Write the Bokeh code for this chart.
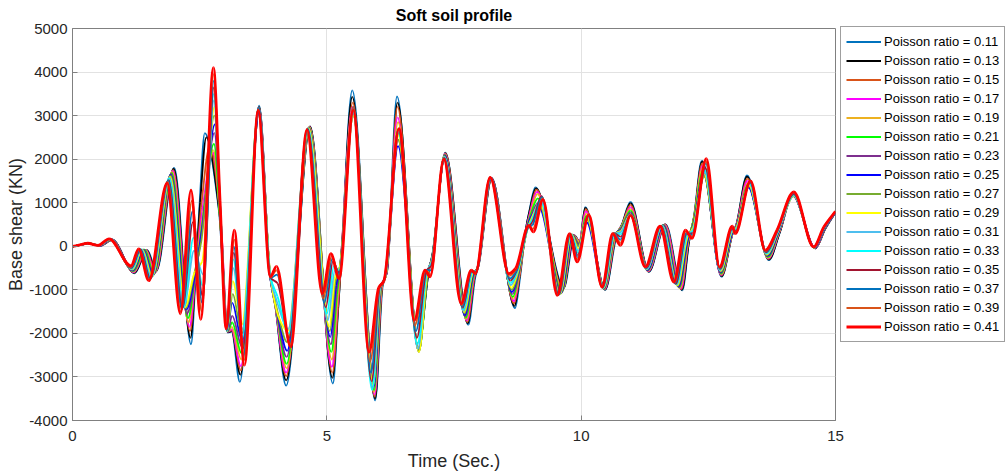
from bokeh.plotting import figure
from bokeh.models import Range1d, FixedTicker, Legend, LegendItem, ColumnDataSource
from bokeh.embed import file_html
from bokeh.resources import INLINE

poisson_ratios = [0.11, 0.13, 0.15, 0.17, 0.19, 0.21, 0.23, 0.25,
                  0.27, 0.29, 0.31, 0.33, 0.35, 0.37, 0.39, 0.41]
line_colors = ["#0072BD", "#000000", "#D95319", "#FF00FF", "#EDB120", "#00FF00",
               "#7E2F8E", "#0000FF", "#77AC30", "#FFFF00", "#4DBEEE", "#00FFFF",
               "#A2142F", "#0072BD", "#D95319", "#FF0000"]
x_ticks = [0, 5, 10, 15]
y_ticks = [-4000, -3000, -2000, -1000, 0, 1000, 2000, 3000, 4000, 5000]

# (time [s], base shear [kN]) read at extrema / shoulders of each curve
pr011 = [(0,0),(0.33,60),(0.55,15),(0.78,150),(1.22,-620),(1.47,-90),(1.65,-560),(2.00,1800),(2.33,-2250),(2.42,-700),(2.50,1000),(2.60,2600),(2.88,800),(3.05,-1980),(3.13,-1960),(3.29,-3115),(3.67,3230),(3.88,-600),(3.98,-1300),(4.20,-3200),(4.67,2750),(5.12,-3150),(5.22,-1500),(5.28,-400),(5.50,3580),(5.95,-3540),(6.10,-900),(6.18,-600),(6.38,3440),(6.80,-2350),(7.00,-600),(7.08,-150),(7.33,2150),(7.78,-1800),(7.92,-700),(7.98,-450),(8.24,1560),(8.70,-1420),(8.80,-700),(8.90,300),(8.98,800),(9.10,1350),(9.66,-950),(9.87,250),(9.97,100),(10.08,900),(10.47,-1000),(10.70,250),(10.80,500),(10.97,1020),(11.33,-590),(11.66,505),(11.99,-1010),(12.12,100),(12.22,700),(12.37,1960),(12.76,-700),(12.98,300),(13.05,500),(13.26,1630),(13.69,-320),(13.90,300),(14.17,1220),(14.60,-50),(14.80,400),(15.0,780)]
pr013 = [(0,0),(0.33,60),(0.55,15),(0.78,150),(1.22,-610),(1.46,-90),(1.64,-575),(1.99,1780),(2.32,-2100),(2.42,-600),(2.51,1000),(2.63,2500),(2.89,750),(3.05,-1970),(3.13,-1950),(3.30,-2950),(3.67,3200),(3.88,-610),(3.98,-1300),(4.20,-3080),(4.67,2750),(5.11,-3020),(5.22,-1450),(5.28,-400),(5.50,3430),(5.95,-3500),(6.09,-905),(6.18,-610),(6.39,3300),(6.80,-2350),(7.00,-600),(7.08,-170),(7.33,2140),(7.77,-1770),(7.91,-690),(7.98,-460),(8.24,1560),(8.69,-1370),(8.79,-690),(8.90,310),(8.98,780),(9.11,1330),(9.65,-970),(9.86,250),(9.97,100),(10.08,880),(10.47,-995),(10.69,255),(10.80,490),(10.97,990),(11.33,-580),(11.65,500),(11.98,-1000),(12.12,110),(12.22,680),(12.38,1950),(12.76,-685),(12.98,305),(13.05,490),(13.26,1600),(13.69,-305),(13.90,305),(14.17,1210),(14.60,-48),(14.80,405),(15.0,780)]
pr015 = [(0,0),(0.33,60),(0.54,15),(0.77,150),(1.21,-600),(1.45,-85),(1.63,-590),(1.98,1750),(2.31,-1950),(2.42,-600),(2.53,900),(2.70,2300),(2.91,650),(3.05,-1960),(3.13,-1930),(3.31,-2850),(3.67,3180),(3.88,-620),(3.99,-1350),(4.20,-2980),(4.66,2740),(5.11,-2900),(5.22,-1400),(5.28,-400),(5.51,3300),(5.94,-3450),(6.09,-910),(6.17,-625),(6.39,3200),(6.80,-2350),(6.99,-600),(7.08,-190),(7.33,2130),(7.76,-1740),(7.91,-680),(7.97,-470),(8.24,1560),(8.68,-1310),(8.79,-680),(8.91,320),(8.99,760),(9.12,1300),(9.64,-990),(9.85,255),(9.97,100),(10.09,850),(10.46,-990),(10.69,260),(10.80,480),(10.97,950),(11.32,-575),(11.65,500),(11.97,-985),(12.11,120),(12.22,660),(12.38,1900),(12.76,-670),(12.98,310),(13.05,480),(13.27,1550),(13.68,-290),(13.89,310),(14.17,1200),(14.60,-45),(14.80,410),(15.0,780)]
pr017 = [(0,0),(0.32,60),(0.54,15),(0.77,155),(1.21,-590),(1.44,-85),(1.62,-605),(1.97,1730),(2.30,-1850),(2.42,-600),(2.55,800),(2.76,2150),(2.92,500),(3.05,-1960),(3.13,-1900),(3.31,-2750),(3.67,3150),(3.88,-630),(3.99,-1400),(4.20,-2900),(4.66,2740),(5.10,-2770),(5.21,-1300),(5.27,-400),(5.51,3200),(5.94,-3400),(6.08,-915),(6.17,-640),(6.39,2960),(6.80,-2350),(6.99,-600),(7.08,-210),(7.32,2120),(7.75,-1700),(7.90,-670),(7.97,-480),(8.23,1565),(8.68,-1260),(8.78,-670),(8.91,330),(8.99,740),(9.13,1250),(9.63,-1010),(9.85,255),(9.96,100),(10.09,800),(10.46,-985),(10.68,265),(10.80,470),(10.97,900),(11.32,-570),(11.64,495),(11.96,-970),(12.11,130),(12.22,640),(12.39,1850),(12.75,-655),(12.98,315),(13.05,470),(13.27,1500),(13.68,-275),(13.89,315),(14.17,1190),(14.60,-43),(14.79,410),(15.0,780)]
pr019 = [(0,0),(0.32,60),(0.54,15),(0.76,155),(1.20,-580),(1.43,-85),(1.61,-620),(1.96,1710),(2.28,-1750),(2.41,-650),(2.55,600),(2.77,2200),(2.92,300),(3.05,-1950),(3.13,-1850),(3.32,-2600),(3.67,3120),(3.88,-640),(4.00,-1450),(4.21,-2800),(4.66,2730),(5.10,-2600),(5.21,-1200),(5.27,-400),(5.51,3150),(5.93,-3350),(6.08,-920),(6.16,-650),(6.40,2850),(6.80,-2380),(6.99,-600),(7.08,-230),(7.32,2110),(7.74,-1670),(7.89,-660),(7.96,-490),(8.23,1565),(8.67,-1210),(8.78,-660),(8.92,340),(9.00,720),(9.14,1200),(9.63,-1030),(9.84,260),(9.96,100),(10.10,750),(10.45,-980),(10.68,270),(10.79,450),(10.97,860),(11.31,-560),(11.63,490),(11.94,-960),(12.11,140),(12.21,610),(12.39,1800),(12.75,-640),(12.98,320),(13.05,460),(13.28,1450),(13.67,-260),(13.89,320),(14.17,1180),(14.59,-40),(14.79,415),(15.0,780)]
pr021 = [(0,0),(0.32,60),(0.53,15),(0.76,155),(1.20,-570),(1.42,-80),(1.60,-635),(1.95,1680),(2.27,-1650),(2.41,-700),(2.55,500),(2.78,2350),(2.92,300),(3.05,-1950),(3.14,-1750),(3.32,-2450),(3.67,3100),(3.88,-650),(4.01,-1500),(4.21,-2700),(4.65,2730),(5.09,-2425),(5.20,-1100),(5.27,-400),(5.52,3100),(5.93,-3300),(6.07,-920),(6.16,-665),(6.40,2600),(6.81,-2400),(6.99,-600),(7.07,-250),(7.32,2100),(7.73,-1640),(7.89,-650),(7.96,-500),(8.23,1565),(8.66,-1160),(8.77,-650),(8.92,350),(9.00,700),(9.15,1100),(9.62,-1050),(9.83,260),(9.96,50),(10.10,700),(10.45,-975),(10.67,275),(10.79,430),(10.97,820),(11.31,-555),(11.62,490),(11.93,-945),(12.10,150),(12.21,580),(12.40,1750),(12.75,-625),(12.98,325),(13.05,450),(13.28,1400),(13.67,-245),(13.88,325),(14.17,1170),(14.59,-38),(14.79,415),(15.0,780)]
pr023 = [(0,0),(0.32,60),(0.53,15),(0.76,160),(1.19,-560),(1.40,-80),(1.59,-650),(1.94,1660),(2.25,-1550),(2.41,-700),(2.55,450),(2.79,2600),(2.92,400),(3.05,-1950),(3.14,-1600),(3.33,-2300),(3.67,3100),(3.88,-660),(4.02,-1550),(4.21,-2540),(4.65,2720),(5.08,-2250),(5.19,-1000),(5.26,-450),(5.52,3050),(5.92,-3250),(6.07,-925),(6.16,-680),(6.40,2450),(6.81,-2400),(6.98,-600),(7.07,-260),(7.32,2090),(7.72,-1610),(7.88,-640),(7.96,-510),(8.23,1570),(8.65,-1100),(8.77,-640),(8.93,360),(9.01,680),(9.16,1000),(9.61,-1070),(9.83,265),(9.95,50),(10.11,650),(10.45,-970),(10.67,280),(10.79,410),(10.97,780),(11.30,-550),(11.62,485),(11.92,-935),(12.10,160),(12.21,540),(12.41,1700),(12.74,-610),(12.98,330),(13.05,440),(13.29,1380),(13.66,-230),(13.88,330),(14.17,1160),(14.59,-35),(14.79,420),(15.0,780)]
pr025 = [(0,0),(0.31,60),(0.53,15),(0.75,160),(1.19,-550),(1.39,-80),(1.58,-665),(1.93,1640),(2.24,-1450),(2.40,-700),(2.55,400),(2.80,2800),(2.92,450),(3.04,-1950),(3.14,-1300),(3.33,-2150),(3.67,3100),(3.88,-670),(4.04,-1600),(4.22,-2400),(4.64,2720),(5.07,-2080),(5.18,-900),(5.26,-450),(5.52,3000),(5.92,-3200),(6.06,-930),(6.15,-690),(6.40,2300),(6.81,-2420),(6.98,-600),(7.07,-270),(7.32,2080),(7.71,-1580),(7.88,-630),(7.95,-520),(8.23,1570),(8.64,-1050),(8.76,-630),(8.93,370),(9.01,660),(9.17,900),(9.60,-1080),(9.82,265),(9.95,0),(10.11,550),(10.44,-965),(10.66,280),(10.79,390),(10.97,750),(11.30,-540),(11.61,480),(11.91,-920),(12.10,180),(12.21,500),(12.41,1650),(12.74,-595),(12.98,335),(13.04,430),(13.29,1350),(13.66,-215),(13.88,335),(14.17,1150),(14.59,-33),(14.79,420),(15.0,780)]
pr027 = [(0,0),(0.31,70),(0.52,20),(0.75,160),(1.18,-540),(1.38,-75),(1.57,-680),(1.93,1620),(2.22,-1420),(2.40,-600),(2.53,100),(2.79,3000),(2.92,550),(3.04,-1950),(3.15,-1100),(3.33,-2000),(3.66,3120),(3.89,-680),(4.05,-1600),(4.22,-2200),(4.64,2710),(5.06,-1950),(5.17,-800),(5.25,-500),(5.52,3000),(5.91,-3150),(6.06,-930),(6.15,-705),(6.40,2450),(6.81,-2420),(6.98,-600),(7.07,-280),(7.31,2070),(7.71,-1540),(7.87,-620),(7.95,-530),(8.22,1570),(8.64,-1000),(8.76,-610),(8.94,380),(9.02,640),(9.18,950),(9.59,-1090),(9.81,270),(9.95,0),(10.12,600),(10.44,-960),(10.66,280),(10.79,370),(10.97,740),(11.29,-530),(11.60,480),(11.90,-910),(12.09,200),(12.20,460),(12.42,1600),(12.74,-580),(12.97,340),(13.04,420),(13.30,1380),(13.65,-200),(13.87,340),(14.18,1150),(14.58,-30),(14.78,425),(15.0,800)]
pr029 = [(0,0),(0.31,70),(0.52,20),(0.74,160),(1.18,-530),(1.37,-75),(1.56,-695),(1.92,1590),(2.21,-1400),(2.40,-600),(2.55,-350),(2.79,3200),(2.91,650),(3.04,-1950),(3.15,-800),(3.33,-1800),(3.66,3150),(3.89,-690),(4.06,-1650),(4.23,-1950),(4.64,2710),(5.05,-1850),(5.16,-700),(5.25,-500),(5.52,3000),(5.91,-3200),(6.05,-935),(6.15,-720),(6.40,2550),(6.81,-2430),(6.98,-600),(7.07,-300),(7.31,2060),(7.70,-1510),(7.87,-610),(7.95,-540),(8.22,1570),(8.63,-950),(8.75,-600),(8.94,390),(9.02,620),(9.19,1000),(9.58,-1100),(9.81,270),(9.94,-50),(10.12,650),(10.44,-955),(10.66,280),(10.78,350),(10.97,730),(11.29,-525),(11.59,475),(11.89,-895),(12.09,220),(12.20,420),(12.42,1650),(12.74,-565),(12.97,350),(13.04,410),(13.30,1400),(13.65,-185),(13.87,345),(14.18,1160),(14.58,-28),(14.78,425),(15.0,800)]
pr031 = [(0,0),(0.31,70),(0.52,20),(0.74,165),(1.17,-520),(1.36,-75),(1.55,-710),(1.91,1570),(2.19,-1400),(2.39,-100),(2.57,-650),(2.78,3350),(2.91,750),(3.04,-1940),(3.16,-500),(3.34,-1900),(3.66,3180),(3.89,-700),(4.04,-1350),(4.24,-1900),(4.63,2700),(5.02,-1700),(5.16,-550),(5.24,-580),(5.52,3050),(5.90,-3250),(6.05,-935),(6.14,-730),(6.41,2600),(6.79,-2350),(6.97,-580),(7.06,-350),(7.31,2050),(7.69,-1480),(7.86,-600),(7.94,-560),(8.22,1575),(8.62,-890),(8.74,-590),(8.94,400),(9.03,600),(9.20,1050),(9.57,-1100),(9.80,275),(9.94,-100),(10.13,680),(10.43,-950),(10.66,280),(10.78,330),(10.97,720),(11.29,-520),(11.59,475),(11.88,-880),(12.08,240),(12.20,380),(12.43,1700),(12.73,-550),(12.97,360),(13.04,390),(13.31,1420),(13.64,-170),(13.87,350),(14.18,1170),(14.58,-25),(14.78,430),(15.0,800)]
pr033 = [(0,0),(0.31,70),(0.51,20),(0.74,165),(1.17,-510),(1.35,-70),(1.54,-725),(1.90,1550),(2.18,-1400),(2.38,200),(2.56,-900),(2.78,3500),(2.91,800),(3.03,-1940),(3.16,-300),(3.34,-2100),(3.66,3200),(3.89,-710),(4.03,-1150),(4.25,-2000),(4.63,2700),(5.00,-1550),(5.14,-450),(5.24,-560),(5.52,3100),(5.89,-3300),(6.04,-940),(6.14,-745),(6.41,2650),(6.78,-2250),(6.97,-570),(7.06,-400),(7.31,2040),(7.68,-1450),(7.86,-590),(7.94,-570),(8.22,1575),(8.61,-840),(8.74,-580),(8.95,410),(9.03,580),(9.21,1100),(9.56,-1110),(9.80,275),(9.94,-150),(10.13,700),(10.43,-950),(10.66,290),(10.78,280),(10.97,720),(11.28,-510),(11.58,470),(11.87,-870),(12.08,260),(12.19,340),(12.43,1750),(12.73,-535),(12.97,380),(13.04,370),(13.31,1450),(13.64,-155),(13.86,355),(14.18,1180),(14.58,-23),(14.78,430),(15.0,800)]
pr035 = [(0,0),(0.31,70),(0.51,20),(0.73,165),(1.16,-500),(1.34,-70),(1.53,-740),(1.89,1520),(2.16,-1420),(2.37,560),(2.56,-1150),(2.78,3650),(2.90,900),(3.03,-1930),(3.17,-150),(3.35,-2350),(3.66,3200),(3.89,-720),(4.03,-850),(4.26,-2100),(4.62,2700),(4.98,-1400),(5.12,-350),(5.24,-600),(5.52,3150),(5.88,-3100),(6.04,-940),(6.13,-760),(6.41,2700),(6.77,-2100),(6.96,-560),(7.05,-450),(7.31,2030),(7.67,-1410),(7.85,-575),(7.93,-580),(8.22,1575),(8.61,-790),(8.73,-570),(8.95,420),(9.04,550),(9.22,1150),(9.56,-1110),(9.79,280),(9.93,-200),(10.14,700),(10.42,-945),(10.65,300),(10.78,220),(10.97,710),(11.28,-500),(11.57,470),(11.86,-860),(12.07,280),(12.19,300),(12.44,1800),(12.73,-520),(12.97,400),(13.04,350),(13.32,1470),(13.63,-140),(13.86,360),(14.18,1200),(14.58,-20),(14.78,435),(15.0,800)]
pr037 = [(0,0),(0.30,70),(0.51,20),(0.73,170),(1.16,-480),(1.33,-65),(1.52,-760),(1.88,1500),(2.15,-1450),(2.36,800),(2.55,-1300),(2.78,3800),(2.90,950),(3.03,-1920),(3.17,0),(3.36,-2500),(3.66,3180),(3.89,-730),(4.02,-650),(4.27,-2200),(4.62,2690),(4.95,-1300),(5.11,-280),(5.24,-650),(5.52,3200),(5.87,-2900),(6.03,-945),(6.13,-770),(6.41,2700),(6.75,-1950),(6.95,-550),(7.05,-550),(7.30,2020),(7.66,-1380),(7.85,-570),(7.93,-600),(8.21,1580),(8.60,-740),(8.73,-550),(8.96,440),(9.04,480),(9.23,1130),(9.55,-1120),(9.78,285),(9.93,-250),(10.14,710),(10.42,-940),(10.64,300),(10.77,150),(10.97,710),(11.27,-490),(11.56,465),(11.84,-845),(12.07,310),(12.19,260),(12.45,1900),(12.72,-505),(12.97,420),(13.04,330),(13.32,1490),(13.63,-120),(13.86,365),(14.18,1220),(14.57,-18),(14.78,435),(15.0,800)]
pr039 = [(0,0),(0.30,70),(0.50,20),(0.72,170),(1.15,-470),(1.31,-65),(1.51,-775),(1.87,1480),(2.13,-1500),(2.35,1050),(2.54,-1500),(2.77,3950),(2.90,1000),(3.02,-1900),(3.18,150),(3.37,-2620),(3.65,3150),(3.89,-720),(4.01,-550),(4.28,-2250),(4.61,2690),(4.93,-1200),(5.10,-220),(5.24,-700),(5.52,3200),(5.85,-2650),(6.03,-945),(6.12,-785),(6.42,2700),(6.73,-1820),(6.94,-550),(7.04,-650),(7.30,2010),(7.65,-1350),(7.84,-560),(7.92,-610),(8.21,1580),(8.59,-680),(8.72,-530),(8.96,460),(9.05,400),(9.24,1100),(9.54,-1120),(9.78,285),(9.92,-300),(10.15,720),(10.41,-940),(10.63,300),(10.77,80),(10.97,710),(11.27,-480),(11.56,465),(11.83,-830),(12.06,340),(12.18,220),(12.45,1950),(12.72,-490),(12.97,440),(13.03,310),(13.33,1500),(13.62,-105),(13.85,365),(14.18,1240),(14.57,-15),(14.77,440),(15.0,800)]
pr041 = [(0,0),(0.30,70),(0.50,20),(0.72,170),(1.15,-450),(1.30,-60),(1.50,-790),(1.86,1450),(2.12,-1550),(2.33,1290),(2.52,-1680),(2.77,4100),(2.90,1050),(3.02,-1890),(3.18,370),(3.38,-2730),(3.65,3120),(3.89,-700),(4.01,-460),(4.29,-2310),(4.61,2680),(4.91,-1090),(5.08,-170),(5.24,-740),(5.52,3120),(5.83,-2430),(6.02,-950),(6.12,-800),(6.42,2700),(6.72,-1700),(6.93,-550),(7.03,-700),(7.30,2000),(7.64,-1315),(7.84,-550),(7.92,-630),(8.21,1580),(8.58,-630),(8.71,-510),(8.97,480),(9.06,330),(9.25,1070),(9.53,-1125),(9.77,290),(9.92,-360),(10.15,720),(10.41,-935),(10.62,290),(10.77,20),(10.97,710),(11.26,-475),(11.55,460),(11.82,-820),(12.05,370),(12.18,180),(12.46,2010),(12.72,-475),(12.97,460),(13.03,290),(13.33,1500),(13.62,-90),(13.85,370),(14.18,1250),(14.57,-15),(14.77,440),(15.0,800)]

all_series = [pr011, pr013, pr015, pr017, pr019, pr021, pr023, pr025,
              pr027, pr029, pr031, pr033, pr035, pr037, pr039, pr041]


def smooth_segments(pts):
    """Shape-preserving cubic (PCHIP) drawn as Bezier segments through the read points."""
    t = [q[0] for q in pts]
    v = [q[1] for q in pts]
    n = len(t)
    h = [t[k + 1] - t[k] for k in range(n - 1)]
    d = [(v[k + 1] - v[k]) / h[k] for k in range(n - 1)]
    m = [0.0] * n
    m[-1] = d[-1]
    for k in range(1, n - 1):
        if d[k - 1] * d[k] <= 0:
            m[k] = 0.0
        else:
            w1 = 2 * h[k] + h[k - 1]
            w2 = h[k] + 2 * h[k - 1]
            m[k] = (w1 + w2) / (w1 / d[k - 1] + w2 / d[k])
    data = dict(x0=[], y0=[], x1=[], y1=[], cx0=[], cy0=[], cx1=[], cy1=[])
    for k in range(n - 1):
        data["x0"].append(t[k]); data["y0"].append(v[k])
        data["x1"].append(t[k + 1]); data["y1"].append(v[k + 1])
        data["cx0"].append(t[k] + h[k] / 3); data["cy0"].append(v[k] + m[k] * h[k] / 3)
        data["cx1"].append(t[k + 1] - h[k] / 3); data["cy1"].append(v[k + 1] - m[k + 1] * h[k] / 3)
    return ColumnDataSource(data)


FONT = "Liberation Sans"
AXIS_COL = "#808080"
TEXT_COL = "#262626"

p = figure(frame_width=763, frame_height=392,
           x_range=Range1d(0, 15), y_range=Range1d(-4000, 5000),
           output_backend="svg", toolbar_location=None,
           min_border_left=72, min_border_right=170, min_border_top=28, min_border_bottom=54,
           title="Soft soil profile")
p.background_fill_color = "white"
p.border_fill_color = "white"
p.outline_line_color = AXIS_COL
p.outline_line_width = 1

p.title.text_font = FONT
p.title.text_font_size = "16px"
p.title.text_font_style = "bold"
p.title.text_color = "#000000"
p.title.align = "center"
p.title.standoff = 9

p.xaxis.ticker = FixedTicker(ticks=x_ticks)
p.yaxis.ticker = FixedTicker(ticks=y_ticks)
p.xaxis.major_label_overrides = {t: str(t) for t in x_ticks}
p.yaxis.major_label_overrides = {t: str(t) for t in y_ticks}
for ax in (p.xaxis[0], p.yaxis[0]):
    ax.axis_line_color = AXIS_COL
    ax.major_tick_line_color = AXIS_COL
    ax.major_tick_in = 5
    ax.major_tick_out = 0
    ax.minor_tick_line_color = None
    ax.major_label_text_font = FONT
    ax.major_label_text_font_size = "15px"
    ax.major_label_text_color = TEXT_COL
    ax.axis_label_text_font = FONT
    ax.axis_label_text_font_size = "18px"
    ax.axis_label_text_font_style = "normal"
    ax.axis_label_text_color = TEXT_COL
p.xaxis.axis_label = "Time (Sec.)"
p.yaxis.axis_label = "Base shear (KN)"
p.xaxis.major_label_standoff = 10
p.xaxis.axis_label_standoff = 7
p.yaxis.major_label_standoff = 5
p.yaxis.axis_label_standoff = 0

p.xgrid.ticker = FixedTicker(ticks=x_ticks)
p.ygrid.ticker = FixedTicker(ticks=y_ticks)
p.xgrid.grid_line_color = "#e2e2e2"
p.ygrid.grid_line_color = "#e2e2e2"

items = []
for ratio, col, pts in zip(poisson_ratios, line_colors, all_series):
    src = smooth_segments(pts)
    lw = 2.8 if ratio == 0.41 else 1.8
    r = p.bezier(x0="x0", y0="y0", x1="x1", y1="y1", cx0="cx0", cy0="cy0",
                 cx1="cx1", cy1="cy1", source=src, line_color=col, line_width=lw)
    items.append(LegendItem(label="Poisson ratio = %.2f" % ratio, renderers=[r]))

# legend in the right-hand panel, 5 px from the frame, top aligned with it
legend = Legend(items=items, location=(5, 78), margin=0, padding=5, spacing=0,
                glyph_width=35, glyph_height=19, label_height=19, label_standoff=3,
                label_text_font=FONT, label_text_font_size="13px", label_text_color="#000000",
                border_line_color="#404040", border_line_width=1,
                background_fill_color="white", background_fill_alpha=1.0)
p.add_layout(legend, "right")

open("out.html", "w").write(file_html(p, INLINE))
